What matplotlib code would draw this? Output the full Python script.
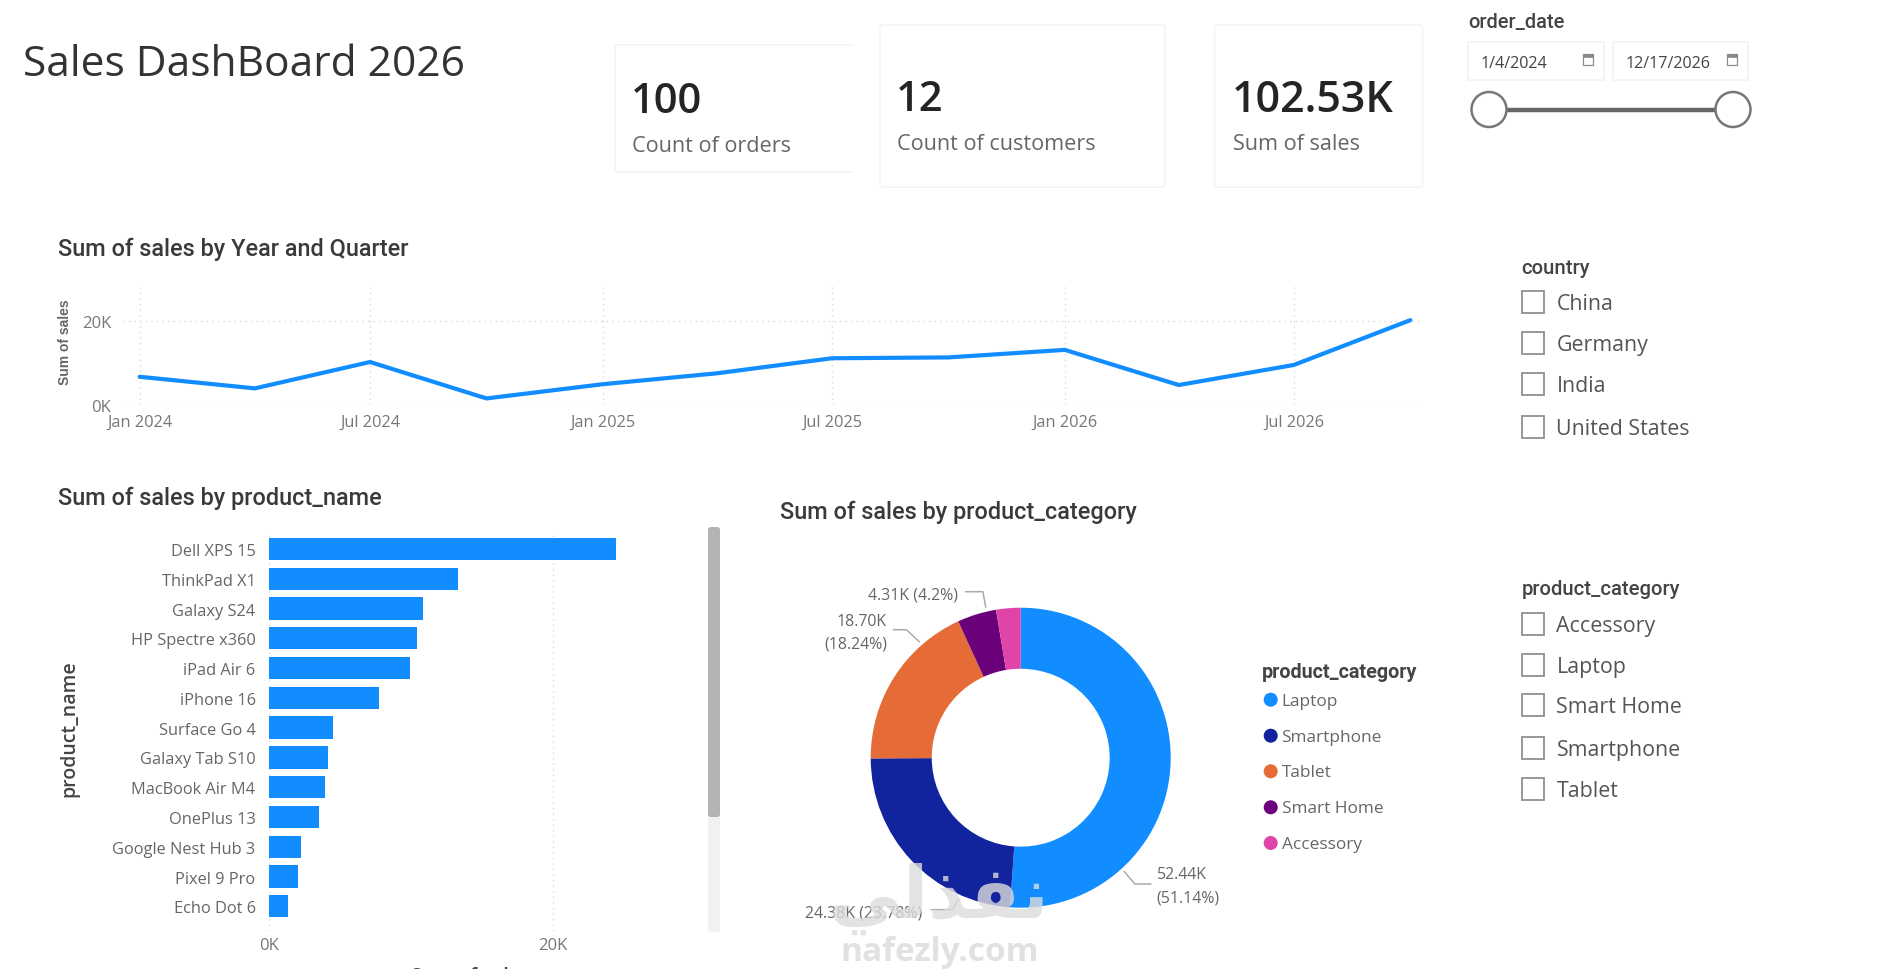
import matplotlib
matplotlib.use("Agg")
import matplotlib.pyplot as plt
import matplotlib.dates as mdates
from matplotlib.patches import Circle, FancyBboxPatch, Rectangle
from datetime import date

W, H = 1880, 970
BLUE = "#118DFF"
BODY = "Open Sans"
HEAD = "Roboto"

# Data
quarters = [date(2024, 1, 1), date(2024, 4, 1), date(2024, 7, 1), date(2024, 10, 1),
            date(2025, 1, 1), date(2025, 4, 1), date(2025, 7, 1), date(2025, 10, 1),
            date(2026, 1, 1), date(2026, 4, 1), date(2026, 7, 1), date(2026, 10, 1)]
quarter_sales = [6.67, 3.9, 10.2, 1.5, 4.9, 7.5, 11.1, 11.3, 13.1, 4.7, 9.5, 20.2]
quarter_ticks = [date(2024, 1, 1), date(2024, 7, 1), date(2025, 1, 1),
                 date(2025, 7, 1), date(2026, 1, 1), date(2026, 7, 1)]

products = ["Dell XPS 15", "ThinkPad X1", "Galaxy S24", "HP Spectre x360", "iPad Air 6",
            "iPhone 16", "Surface Go 4", "Galaxy Tab S10", "MacBook Air M4", "OnePlus 13",
            "Google Nest Hub 3", "Pixel 9 Pro", "Echo Dot 6"]
product_sales = [24.44, 13.33, 10.87, 10.46, 9.91, 7.79, 4.48, 4.14, 3.97, 3.52, 2.26, 2.02, 1.37]

categories = ["Laptop", "Smartphone", "Tablet", "Smart Home", "Accessory"]
category_sales = [52.44, 24.38, 18.70, 4.31, 2.70]
category_colors = ["#118DFF", "#12239E", "#E66C37", "#6B007B", "#E044A7"]

countries = ["China", "Germany", "India", "United States"]
slicer_categories = ["Accessory", "Laptop", "Smart Home", "Smartphone", "Tablet"]

fig = plt.figure(figsize=(W / 100, H / 100), dpi=100, facecolor="white")


def px_axes(left, top, right, bottom, **kw):
    return fig.add_axes([left / W, 1 - bottom / H, (right - left) / W, (bottom - top) / H], **kw)


# Full-size canvas in pixels for the cards, slicers and titles
bg = fig.add_axes([0, 0, 1, 1], zorder=0)
bg.set_xlim(0, W)
bg.set_ylim(H, 0)
bg.axis("off")


def label(x, y, s, size, color="#555555", ha="left", family=BODY, weight="normal", **kw):
    bg.text(x, y, s, fontsize=size, color=color, ha=ha, va="center", family=family,
            fontweight=weight, **kw)


def card(x0, y0, x1, y1):
    bg.add_patch(FancyBboxPatch((x0 + 3, y0 + 3), x1 - x0 - 6, y1 - y0 - 6,
                                boxstyle="round,pad=3", fc="white", ec="#f5f5f5", lw=1.2))


label(23, 65, "Sales DashBoard 2026", 30.6, color="#333333")

# KPI cards
bg.plot([853, 614.5, 614.5, 853], [46, 46, 172.7, 172.7], color="#f5f5f5", lw=1.2)
card(880, 26, 1165, 188)
card(1214.6, 26, 1422.6, 188)
label(631, 102, "100", 30, color="#252423", weight="semibold")
label(632, 146.5, "Count of orders", 15.6, color="#666666")
label(896, 100, "12", 30, color="#252423", weight="semibold")
label(897, 145, "Count of customers", 15.6, color="#666666")
label(1232, 100, "102.53K", 31, color="#252423", weight="semibold")
label(1233, 145, "Sum of sales", 15.6, color="#666666")

# Date slicer
label(1468, 23, "order_date", 14.4, color="#444444", family=HEAD, weight="medium")
for x0, x1, txt in [(1468, 1604, "1/4/2024"), (1613, 1748, "12/17/2026")]:
    bg.add_patch(Rectangle((x0, 43), x1 - x0, 38, fc="white", ec="#f2f2f2", lw=1.2))
    label(x0 + 13, 64, txt, 11.6, color="#444444")
    bg.add_patch(Rectangle((x1 - 21, 55), 10, 11, fc="white", ec="#8a8a8a", lw=0.9))
    bg.add_patch(Rectangle((x1 - 21, 55), 10, 3, fc="#8a8a8a", ec="#8a8a8a", lw=0.5))
bg.plot([1489, 1733], [110.5, 110.5], color="#666666", lw=3.2, solid_capstyle="butt", zorder=2)
for cx in [1489, 1733]:
    bg.add_patch(Circle((cx, 110.5), 17.5, fc="white", ec="#777777", lw=1.8, zorder=3))


def checklist(title, title_y, items, ys):
    label(1521.5, title_y, title, 14.6, color="#444444", family=HEAD, weight="medium")
    for item, y in zip(items, ys):
        bg.add_patch(Rectangle((1522, y - 11), 22, 22, fc="white", ec="#909090", lw=1.3))
        label(1556.5, y + 2, item, 15.4, color="#555555")


checklist("country", 269, countries, [303, 344, 385, 427.5])
checklist("product_category", 590, slicer_categories, [624.5, 665.5, 706, 749, 790])

# Chart titles
label(57.5, 249, "Sum of sales by Year and Quarter", 16.9, color="#3a3a3a", family=HEAD, weight="medium")
label(57.5, 498, "Sum of sales by product_name", 16.9, color="#3a3a3a", family=HEAD, weight="medium")
label(780, 512.5, "Sum of sales by product_category", 16.9, color="#3a3a3a", family=HEAD, weight="medium")

# Line chart
ax = px_axes(123, 285, 1423, 405.7, zorder=2)
ax.patch.set_alpha(0)
ax.plot(mdates.date2num(quarters), quarter_sales, color=BLUE, lw=3.0, solid_joinstyle="miter",
        solid_capstyle="round", zorder=3)
ax.set_xlim(mdates.date2num(date(2024, 1, 1)) - 13.2, mdates.date2num(date(2026, 7, 1)) + 102)
ax.set_ylim(0, 28.84)
ax.set_yticks([0, 20], ["0K", "20K"])
ax.set_xticks(mdates.date2num(quarter_ticks), [d.strftime("%b %Y") for d in quarter_ticks])
ax.grid(True, color="#d9d9d9", ls=(0, (1, 3)), lw=1)
ax.tick_params(axis="y", length=0, pad=8.5, labelsize=12, labelcolor="#777777")
ax.tick_params(axis="x", length=0, pad=6.5, labelsize=11.8, labelcolor="#777777")
for lab in ax.get_xticklabels() + ax.get_yticklabels():
    lab.set_family(BODY)
for s in ax.spines.values():
    s.set_visible(False)
ax.set_axisbelow(True)
bg.text(65, 342, "Sum of sales", rotation=90, fontsize=10, color="#666666", ha="center",
        va="center", family="Liberation Sans", fontweight="bold")

# Bar chart
ax2 = px_axes(269, 531.7, 700, 931.7, zorder=2)
ax2.patch.set_alpha(0)
ypos = list(range(len(products)))
ax2.barh(ypos, product_sales, height=0.75, color=BLUE, zorder=3)
ax2.set_ylim(12.82, -0.614)
ax2.set_xlim(0, 30.4)
ax2.set_yticks(ypos, products)
ax2.set_xticks([0, 20], ["0K", "20K"])
ax2.grid(True, axis="x", color="#d9d9d9", ls=(0, (1, 3)), lw=1)
ax2.tick_params(axis="y", length=0, pad=9.7, labelsize=11.8, labelcolor="#666666")
ax2.tick_params(axis="x", length=0, pad=4.5, labelsize=12, labelcolor="#777777")
for lab in ax2.get_xticklabels() + ax2.get_yticklabels():
    lab.set_family(BODY)
for s in ax2.spines.values():
    s.set_visible(False)
ax2.set_axisbelow(True)
bg.text(69, 729, "product_name", rotation=90, fontsize=14, color="#444444", ha="center",
        va="center", family=BODY, fontweight="semibold")
bg.text(470, 977, "Sum of sales", fontsize=14, color="#444444", ha="center", va="center",
        family=BODY, fontweight="semibold")

# Scrollbar next to the bars
bg.add_patch(FancyBboxPatch((711, 531), 6, 399, boxstyle="round,pad=3", fc="#f1f1f1", ec="none"))
bg.add_patch(FancyBboxPatch((711, 531), 6, 284, boxstyle="round,pad=3", fc="#b3b3b3", ec="none"))

# Donut
ax3 = px_axes(1020.7 - 157.5, 758.7 - 157.5, 1020.7 + 157.5, 758.7 + 157.5, zorder=2)
ax3.pie(category_sales, colors=category_colors, startangle=90, counterclock=False, radius=1,
        wedgeprops={"width": 0.407, "edgecolor": "none"})
ax3.set_xlim(-1.05, 1.05)
ax3.set_ylim(-1.05, 1.05)

# Donut data labels with their leader lines
leader = {"color": "#aaaaaa", "lw": 1.1}
lab_size = 11.4
label(958.5, 596, "4.31K (4.2%)", lab_size, ha="right", color="#666666")
bg.plot([965.7, 982.9, 985.7], [592.7, 592.7, 608], **leader)
label(887, 622.5, "18.70K", lab_size, ha="right", color="#666666")
label(887, 645, "(18.24%)", lab_size, ha="right", color="#666666")
bg.plot([893.6, 906.4, 919.3], [630.7, 630.7, 642.7], **leader)
label(1156.5, 875.3, "52.44K", lab_size, color="#666666")
label(1156.5, 898.3, "(51.14%)", lab_size, color="#666666")
bg.plot([1124.3, 1135, 1150.7], [872.7, 885, 885], **leader)
label(805, 913.5, "24.38K (23.78%)", lab_size, color="#666666")
bg.plot([931.4, 952.9, 958.6], [910.7, 910.7, 900], **leader)

# Donut legend
label(1262, 672.3, "product_category", 14.2, color="#444444", family=HEAD, weight="bold")
for cat, col, y in zip(categories, category_colors, [700.7, 736.7, 772.3, 808.3, 844]):
    bg.add_patch(Circle((1270.7, y), 7, fc=col, ec="none"))
    label(1281.5, y + 1, cat, 12.4, color="#666666")

# Watermark on top of everything
top = fig.add_axes([0, 0, 1, 1], zorder=5)
top.set_xlim(0, W)
top.set_ylim(H, 0)
top.axis("off")
top.patch.set_alpha(0)
top.text(939, 899, "\ufef2\ufedf\ufeac\ufed4\ufee7", fontsize=52, color="#dcdcdc", alpha=0.8, ha="center",
         va="center", family="DejaVu Sans", fontweight="bold")
top.text(940, 953, "nafezly.com", fontsize=24, color="#dcdcdc", alpha=0.85, ha="center", va="center",
         family=BODY, fontweight="bold")

fig.savefig("out.png", dpi=100)
